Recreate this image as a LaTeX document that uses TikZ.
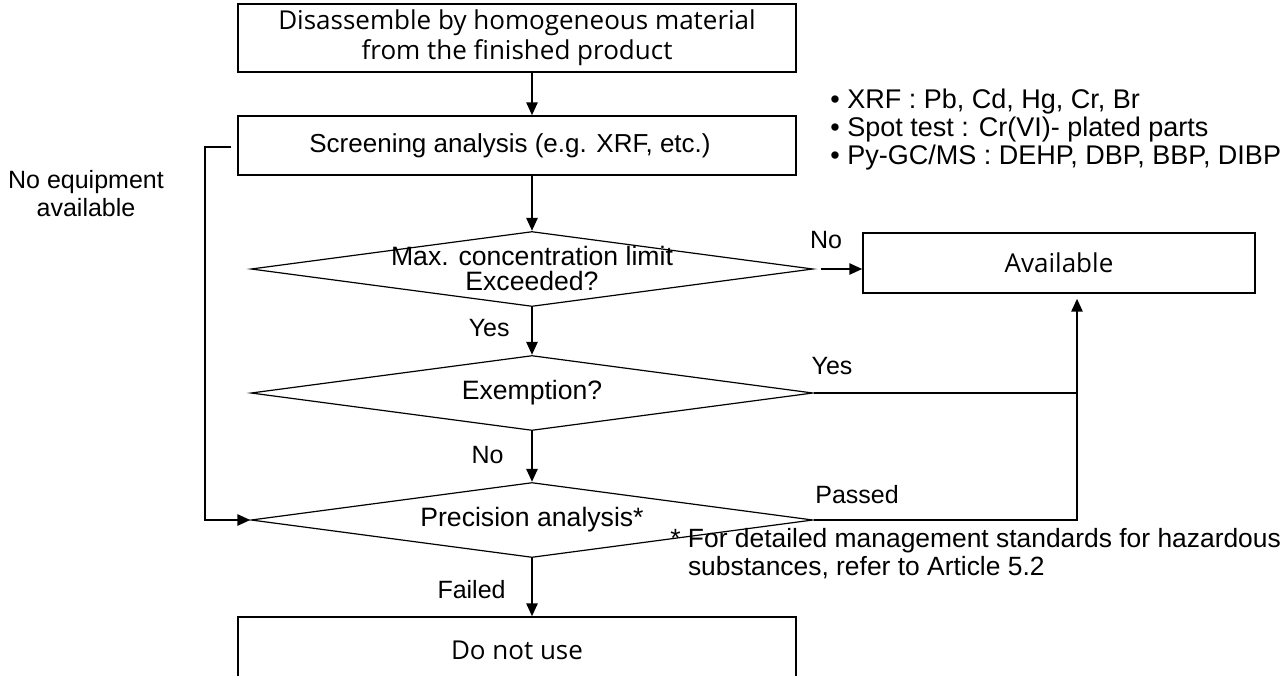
\documentclass[tikz,border=0pt]{standalone}
\usepackage{fontspec}
\setmainfont{Liberation Sans}
\newfontfamily\kfont{Open Sans}
\usetikzlibrary{shapes.geometric,arrows.meta}
\begin{document}
\begin{tikzpicture}[x=0.5pt,y=-0.5pt,
  box/.style={draw,line width=0.65pt,rectangle,inner sep=0pt,minimum width=279pt,font=\kfont\fontsize{13}{15}\selectfont,align=center},
  dia/.style={draw,line width=0.6pt,diamond,inner sep=0pt,minimum width=281pt,minimum height=37.5pt},
  txt/.style={inner sep=0pt,font=\fontsize{12.5}{14}\selectfont,align=center},
  dtxt/.style={inner sep=0pt,font=\fontsize{13.3}{12.5}\selectfont,align=center},
  arr/.style={line width=1.3pt,-{Triangle[length=6.5pt,width=5.5pt]}},
  ln/.style={line width=1.3pt}]
\useasboundingbox (0,0) rectangle (1284,675);
% boxes
\node[box,minimum height=34pt] (b1) at (517,38) {Disassemble by homogeneous material\\from the finished product};
\node[box,minimum height=29.5pt] (b2) at (517,145.5) {};
\node[txt,font=\fontsize{13}{14}\selectfont] (b2t) at (510,145.5) {Screening analysis (e.g. XRF, etc.)};
\node[box,minimum height=33pt] (b5) at (517,650) {Do not use};
\node[box,minimum width=196pt,minimum height=30pt] (av) at (1059,263) {Available};
% diamonds
\node[dia] (d1) at (532,269) {};
\node[dia] (d2) at (532,393) {};
\node[dia] (d3) at (532,520) {};
\node[dtxt] (t1) at (532,268) {Max. concentration limit\\Exceeded?};
\node[dtxt] (t2) at (d2) {Exemption?};
\node[dtxt] (t3) at (d3) {Precision analysis*};
% coordinates
\coordinate (j) at (1077,393);
\coordinate (l1) at (205,147);
% connectors
\draw[arr] (b1.south -| d1.north) -- (b2.north -| d1.north);
\draw[arr] (b2.south -| d1.north) -- (d1.north);
\draw[arr] (d1.south) -- (d2.north);
\draw[arr] (d2.south) -- (d3.north);
\draw[arr] (d3.south) -- (b5.north -| d3.south);
\draw[arr,shorten <=3.5pt] (d1.east) -- (av.west |- d1.east);
\draw[ln] (d3.east) -- (d3.east -| j) -- (j);
\draw[arr] (d2.east) -- (j) -- ([yshift=-2.5pt]av.south -| j);
\draw[arr] ([xshift=-3pt]b2.west |- l1) -- (l1) -- (l1 |- d3.west) -- (d3.west);
% labels
\node[txt] (lno1) at (826,240) {No};
\node[txt,anchor=east] (lyes1) at (510,328) {Yes};
\node[txt] (lyes2) at (832,366) {Yes};
\node[txt,anchor=east] (lno2) at (504,455) {No};
\node[txt,anchor=west] (lpass) at (815,495) {Passed};
\node[txt,anchor=east] (lfail) at (506,590) {Failed};
\node[txt] (lnoeq) at (86,194) {No equipment\\available};
\node[txt,align=left,anchor=west,font=\fontsize{13.5}{14}\selectfont] (bul) at (830,130) {•\ XRF : Pb, Cd, Hg, Cr, Br\\•\ Spot test : Cr(VI)- plated parts\\•\ Py-GC/MS : DEHP, DBP, BBP, DIBP};
\node[txt,align=left,anchor=west,font=\fontsize{13.2}{14}\selectfont] (fn) at (670,554) {* For detailed management standards for hazardous\\\phantom{* }substances, refer to Article 5.2};
\end{tikzpicture}
\end{document}
